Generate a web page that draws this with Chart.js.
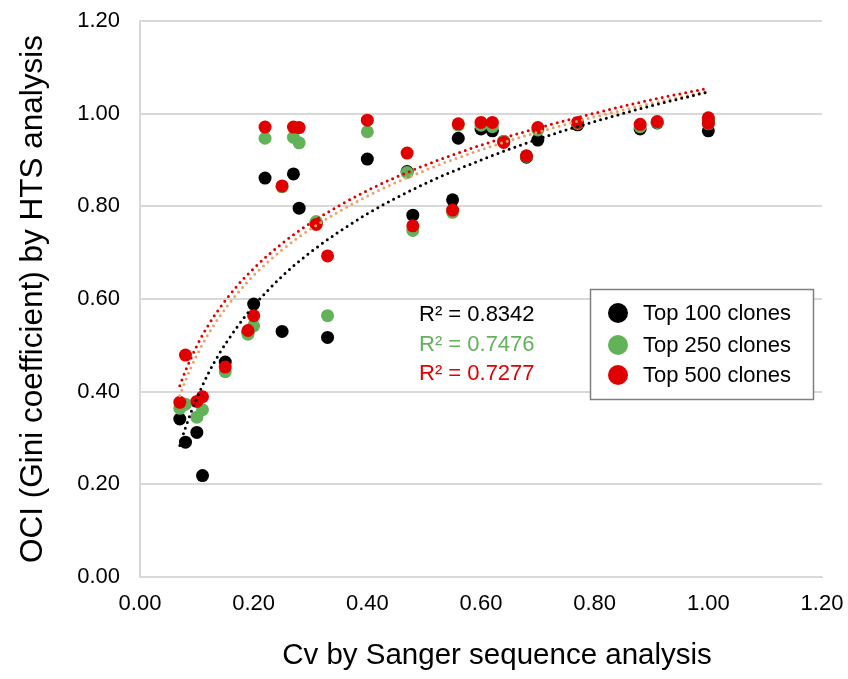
<!DOCTYPE html>
<html>
<head>
<meta charset="utf-8">
<script src="https://cdn.jsdelivr.net/npm/chart.js@4.4.1/dist/chart.umd.min.js"></script>
<style>
  html, body { margin: 0; padding: 0; background: #fff; }
  #wrap { width: 848px; height: 679px; }
</style>
</head>
<body>
<div id="wrap"><canvas id="grafica" width="848" height="679"></canvas></div>
<script>
// Cv por muestra (eje x), compartido por las tres series
var cv = [0.07, 0.08, 0.10, 0.11, 0.15, 0.19, 0.20, 0.22, 0.25, 0.27, 0.28, 0.31, 0.33, 0.40,
          0.47, 0.48, 0.55, 0.56, 0.60, 0.62, 0.64, 0.68, 0.70, 0.77, 0.88, 0.91, 1.00, 1.00];

// OCI (Gini) por serie
var top100 = [0.341, 0.291, 0.312, 0.219, 0.464, 0.528, 0.589, 0.861, 0.530, 0.870, 0.796, 0.764, 0.517, 0.902,
              0.875, 0.781, 0.814, 0.947, 0.967, 0.963, 0.940, 0.906, 0.943, 0.976, 0.967, 0.980, 0.963, 0.985];
var top250 = [0.364, 0.373, 0.345, 0.361, 0.443, 0.524, 0.542, 0.947, 0.842, 0.949, 0.937, 0.767, 0.564, 0.961,
              0.873, 0.748, 0.787, 0.975, 0.975, 0.972, 0.940, 0.908, 0.965, 0.979, 0.972, 0.981, 0.978, 0.990];
var top500 = [0.377, 0.479, 0.379, 0.389, 0.453, 0.532, 0.564, 0.971, 0.844, 0.971, 0.970, 0.761, 0.693, 0.986,
              0.915, 0.758, 0.792, 0.978, 0.981, 0.981, 0.938, 0.909, 0.970, 0.981, 0.977, 0.983, 0.979, 0.991];

// Líneas de tendencia (logarítmicas)
var tendX    = [0.07, 0.08, 0.09, 0.10, 0.12, 0.14, 0.17, 0.20, 0.25, 0.30, 0.40, 0.50, 0.60, 0.70, 0.80, 0.90, 1.00];
var tend100  = [0.284, 0.322, 0.356, 0.386, 0.439, 0.483, 0.538, 0.585, 0.649, 0.701, 0.784, 0.848, 0.900, 0.945, 0.983, 1.017, 1.047];
var tend250  = [0.391, 0.424, 0.453, 0.479, 0.524, 0.562, 0.610, 0.651, 0.706, 0.751, 0.822, 0.877, 0.922, 0.960, 0.993, 1.022, 1.048];
var tend500  = [0.413, 0.445, 0.473, 0.499, 0.543, 0.580, 0.627, 0.666, 0.720, 0.764, 0.834, 0.888, 0.932, 0.969, 1.001, 1.030, 1.055];

var etiquetas = ["Top 100 clones", "Top 250 clones", "Top 500 clones"];
var r2Textos  = ["R\u00B2 = 0.8342", "R\u00B2 = 0.7476", "R\u00B2 = 0.7277"];
var tituloX   = "Cv by Sanger sequence analysis";
var tituloY   = "OCI (Gini coefficient) by HTS analysis";
var colores   = ["#000000", "#62B25A", "#E10000"];
var colorTendencia = ["#000000", "#EFA062", "#E10000"];

function pares(xs, ys) {
    return xs.map(function (x, i) { return { x: x, y: ys[i] }; });
}

var fuente = "'Liberation Sans', Arial, Helvetica, sans-serif";

// Leyenda, textos R² y título del eje x (un poco desplazado a la derecha, como en el original)
var extras = {
    id: "extras",
    afterDraw: function (chart) {
        var ctx = chart.ctx;
        ctx.save();
        ctx.textBaseline = "middle";

        ctx.font = "29.5px " + fuente;
        ctx.textAlign = "center";
        ctx.fillStyle = "#000000";
        ctx.fillText(tituloX, 497, 656);

        ctx.font = "22px " + fuente;
        ctx.textAlign = "left";
        var filasR2 = [315, 345, 374];
        r2Textos.forEach(function (t, i) {
            ctx.fillStyle = colores[i];
            ctx.fillText(t, 419, filasR2[i]);
        });

        // caja de la leyenda
        ctx.fillStyle = "#ffffff";
        ctx.fillRect(590, 289, 223, 110);
        ctx.strokeStyle = "#7F7F7F";
        ctx.lineWidth = 1.5;
        ctx.strokeRect(590.5, 289.5, 223, 110);
        var filas = [313, 345, 375];
        etiquetas.forEach(function (t, i) {
            ctx.beginPath();
            ctx.arc(618, filas[i], 10, 0, Math.PI * 2);
            ctx.fillStyle = colores[i];
            ctx.fill();
            ctx.fillStyle = "#000000";
            ctx.fillText(t, 643, filas[i] + 1);
        });
        ctx.restore();
    }
};

var ctx = document.getElementById("grafica").getContext("2d");
var chart = new Chart(ctx, {
    type: "scatter",
    data: {
        datasets: [
            { label: "tend100", data: pares(tendX, tend100), showLine: true, pointRadius: 0,
              borderColor: colorTendencia[0], borderWidth: 3, borderDash: [0, 6], borderCapStyle: "round",
              cubicInterpolationMode: "monotone", order: 0 },
            { label: "tend250", data: pares(tendX, tend250), showLine: true, pointRadius: 0,
              borderColor: colorTendencia[1], borderWidth: 3, borderDash: [0, 6], borderCapStyle: "round",
              cubicInterpolationMode: "monotone", order: 0 },
            { label: "tend500", data: pares(tendX, tend500), showLine: true, pointRadius: 0,
              borderColor: colorTendencia[2], borderWidth: 3, borderDash: [0, 6], borderCapStyle: "round",
              cubicInterpolationMode: "monotone", order: 0 },
            { label: etiquetas[2], data: pares(cv, top500), backgroundColor: colores[2],
              pointRadius: 6.5, pointBorderWidth: 0, order: 1 },
            { label: etiquetas[1], data: pares(cv, top250), backgroundColor: colores[1],
              pointRadius: 6.5, pointBorderWidth: 0, order: 2 },
            { label: etiquetas[0], data: pares(cv, top100), backgroundColor: colores[0],
              pointRadius: 6.5, pointBorderWidth: 0, order: 3 }
        ]
    },
    options: {
        responsive: false,
        animation: false,
        layout: { padding: { top: 21, right: 26, left: 0, bottom: 0 } },
        plugins: { legend: { display: false }, tooltip: { enabled: false } },
        scales: {
            x: {
                type: "linear", min: 0, max: 1.2,
                afterFit: function (scale) {
                    scale.height = 102;
                    scale.paddingLeft = 0;
                    scale.paddingRight = 0;
                },
                grid: { display: false, drawTicks: false },
                border: { display: true, color: "#D9D9D9", width: 2 },
                ticks: {
                    stepSize: 0.2, padding: 14, color: "#000000",
                    font: { family: fuente, size: 22 },
                    callback: function (v) { return Number(v).toFixed(2); }
                },
                title: { display: false }
            },
            y: {
                type: "linear", min: 0, max: 1.2,
                afterFit: function (scale) {
                    scale.width = 140;
                    scale.paddingTop = 0;
                    scale.paddingBottom = 0;
                },
                grid: { color: "#D9D9D9", lineWidth: 2, drawTicks: false },
                border: { display: true, color: "#D9D9D9", width: 2 },
                ticks: {
                    stepSize: 0.2, padding: 20, color: "#000000",
                    font: { family: fuente, size: 22 },
                    callback: function (v) { return Number(v).toFixed(2); }
                },
                title: {
                    display: true, text: tituloY, color: "#000000",
                    font: { family: fuente, size: 31.5 }, padding: { top: 14, bottom: 0 }
                }
            }
        }
    },
    plugins: [extras]
});
</script>
</body>
</html>
